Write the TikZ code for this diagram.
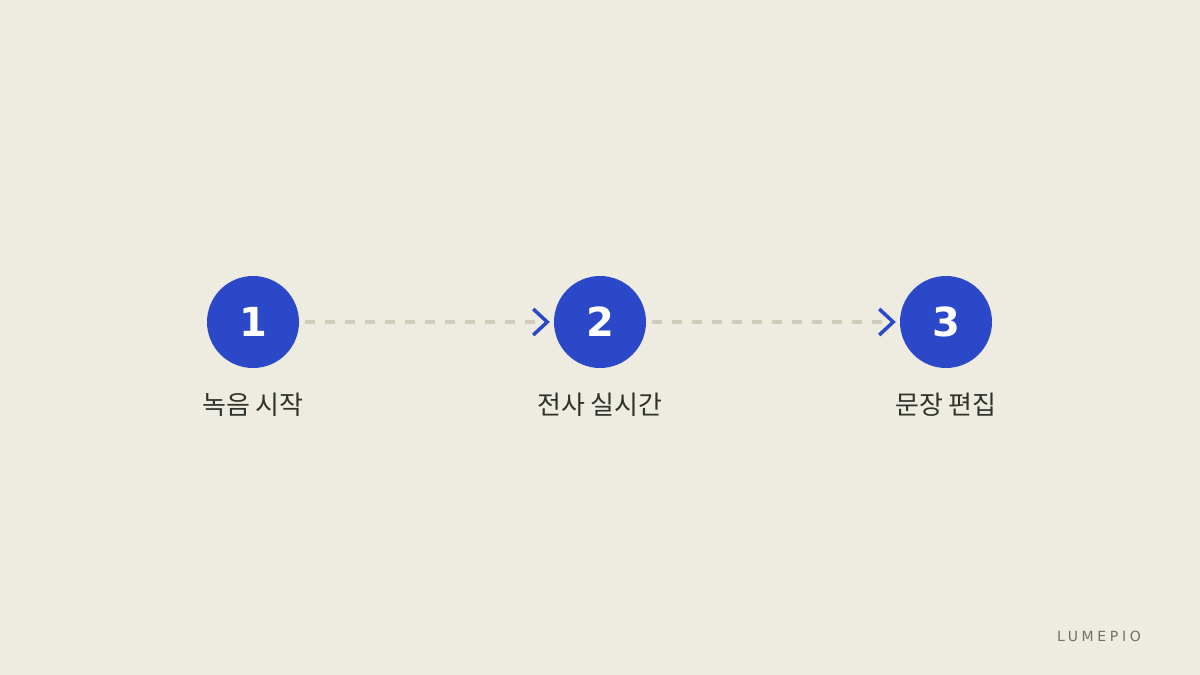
\documentclass[tikz,border=0pt]{standalone}
\usepackage{fontspec}
\setmainfont{DejaVu Sans}
\newfontfamily\kofont{Noto Sans CJK KR}
\newfontfamily\brandfont[LetterSpace=26]{DejaVu Sans}
\usepackage[rgb]{xcolor}
\usepackage{tikz}
\usetikzlibrary{arrows.meta}

\definecolor{paper}{HTML}{EEEBE0}
\definecolor{stageblue}{HTML}{2A48C8}
\definecolor{dashbeige}{HTML}{D1CCBA}
\definecolor{labelgray}{HTML}{2E332E}
\definecolor{brandgray}{HTML}{6E7368}

\tikzset{
stage dot/.style={circle, fill=stageblue, minimum size=92pt, inner sep=0pt,
  text=white, font=\fontsize{40}{40}\selectfont\bfseries},
stage label/.style={text=labelgray, font=\kofont\fontsize{26}{30}\selectfont},
dash link/.style={draw=dashbeige, line width=4pt, dash pattern=on 10pt off 10pt,
  shorten <=6pt, shorten >=4pt,
  -{Straight Barb[length=14pt, width=26pt, line width=3.5pt, color=stageblue]}}
}

\begin{document}
\begin{tikzpicture}[x=1pt, y=-1pt]

% Background
\fill[paper] (0,0) rectangle (1200,675);

%
% Stages
%
\path
(253,322) node [stage dot] (one) {1};
\path
(253,405) node [stage label] (one label) {녹음 시작};

\path
(600,322) node [stage dot] (two) {2};
\path
(600,405) node [stage label] (two label) {전사 실시간};

\path
(946,322) node [stage dot] (three) {3};
\path
(946,405) node [stage label] (three label) {문장 편집};

% Links
\draw[dash link] (one) -- (two);
\draw[dash link] (two) -- (three);

% Brand
\path
(1141,636) node [anchor=east, inner sep=0pt, text=brandgray,
  font=\brandfont\fontsize{14}{16}\selectfont] (brand) {LUMEPIO};

\end{tikzpicture}
\end{document}
